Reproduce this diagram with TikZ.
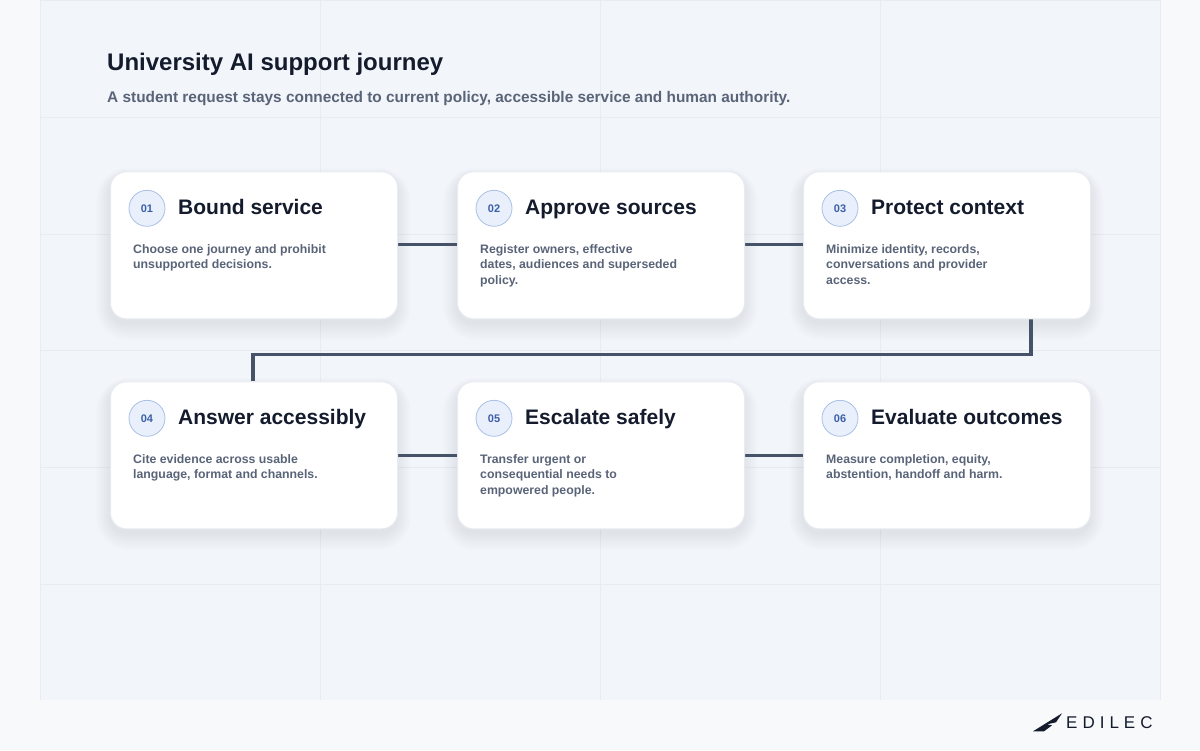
\documentclass[tikz,border=0pt]{standalone}
\usepackage{fontspec}
\setmainfont{Liberation Sans}
\definecolor{bg}{HTML}{F8F9FB}
\definecolor{panel}{HTML}{F2F5FA}
\definecolor{gridc}{HTML}{E8ECF2}
\definecolor{ink}{HTML}{141B2D}
\definecolor{sub}{HTML}{5A6478}
\definecolor{line}{HTML}{465268}
\definecolor{cfill}{HTML}{E9F0FB}
\definecolor{cedge}{HTML}{A9C0E6}
\definecolor{cnum}{HTML}{3A5FA8}
\definecolor{shc}{HTML}{5A6A85}
\begin{document}
\begin{tikzpicture}[x=1pt,y=-1pt,
  card/.style={draw=gridc,line width=1pt,fill=white,rounded corners=16pt,minimum width=287pt,minimum height=147pt,anchor=north west},
  num/.style={circle,draw=cedge,fill=cfill,line width=0.8pt,minimum size=36pt,inner sep=0pt,font=\fontsize{11}{11}\selectfont\bfseries,text=cnum},
  ttl/.style={anchor=base west,inner sep=0pt,font=\fontsize{21}{24}\selectfont\bfseries,text=ink},
  body/.style={anchor=north west,align=left,font=\fontsize{12.3}{15.5}\selectfont\bfseries,text=sub,inner sep=0pt},
  conn/.style={draw=line,line width=3.5pt}]
\fill[bg] (0,0) rectangle (1200,750);
\fill[panel] (40,0) rectangle (1160,700);
\foreach \x in {40,320,600,880,1160} \draw[gridc,line width=0.6pt] (\x,0)--(\x,700);
\foreach \y in {0,117,234,350,467,584} \draw[gridc,line width=0.6pt] (40,\y)--(1160,\y);
\node[anchor=west,font=\fontsize{24}{28}\selectfont\bfseries,text=ink,inner sep=0] (title) at (107,64) {University AI support journey};
\node[anchor=west,font=\fontsize{15.4}{18}\selectfont\bfseries,text=sub,inner sep=0] (subt) at (107,98) {A student request stays connected to current policy, accessible service and human authority.};
% soft shadows
\foreach \x/\y in {110/171,457/171,803/171,110/381,457/381,803/381}{
  \foreach \r in {1,3,...,17}{
    \pgfmathsetmacro{\rc}{16+\r}
    \fill[shc,opacity=0.012,rounded corners=\rc pt] ({\x-\r*0.8},{\y+5-\r*0.5}) rectangle ({\x+287+\r*0.8},{\y+152+\r});
  }
}
\coordinate (a1) at (397,244); \coordinate (a2) at (457,244);
\coordinate (b1) at (743,244); \coordinate (b2) at (803,244);
\coordinate (c1) at (397,455); \coordinate (c2) at (457,455);
\coordinate (d1) at (743,455); \coordinate (d2) at (803,455);
\coordinate (e1) at (1031,318); \coordinate (e2) at (253,381);
\draw[conn] (a1)--(a2); \draw[conn] (b1)--(b2); \draw[conn] (c1)--(c2); \draw[conn] (d1)--(d2);
\draw[conn,line cap=butt] (e1)--(1031,354)--(253,354)--(e2);
\foreach \i/\x/\y/\t/\b in {
 1/110/171/Bound service/{Choose one journey and prohibit\\unsupported decisions.},
 2/457/171/Approve sources/{Register owners, effective\\dates, audiences and superseded\\policy.},
 3/803/171/Protect context/{Minimize identity, records,\\conversations and provider\\access.},
 4/110/381/Answer accessibly/{Cite evidence across usable\\language, format and channels.},
 5/457/381/Escalate safely/{Transfer urgent or\\consequential needs to\\empowered people.},
 6/803/381/Evaluate outcomes/{Measure completion, equity,\\abstention, handoff and harm.}}{
 \node[card] (card\i) at (\x,\y) {};
 \node[num] (n\i) at (\x+37,\y+37) {0\i};
 \node[ttl] (t\i) at (\x+68,\y+43.5) {\t};
 \node[body] (b\i) at (\x+23,\y+73) {\b};
}
\fill[ink] (1033,731) -- (1062,713) -- (1056,722) -- (1047,724) -- (1052,725) -- (1044,731) -- cycle;
\node[anchor=west,font=\fontsize{17}{17}\selectfont,text=ink,inner sep=0] (logo) at (1066,722) {E\hspace{5pt}D\hspace{5pt}I\hspace{5pt}L\hspace{5pt}E\hspace{5pt}C};
\end{tikzpicture}
\end{document}
